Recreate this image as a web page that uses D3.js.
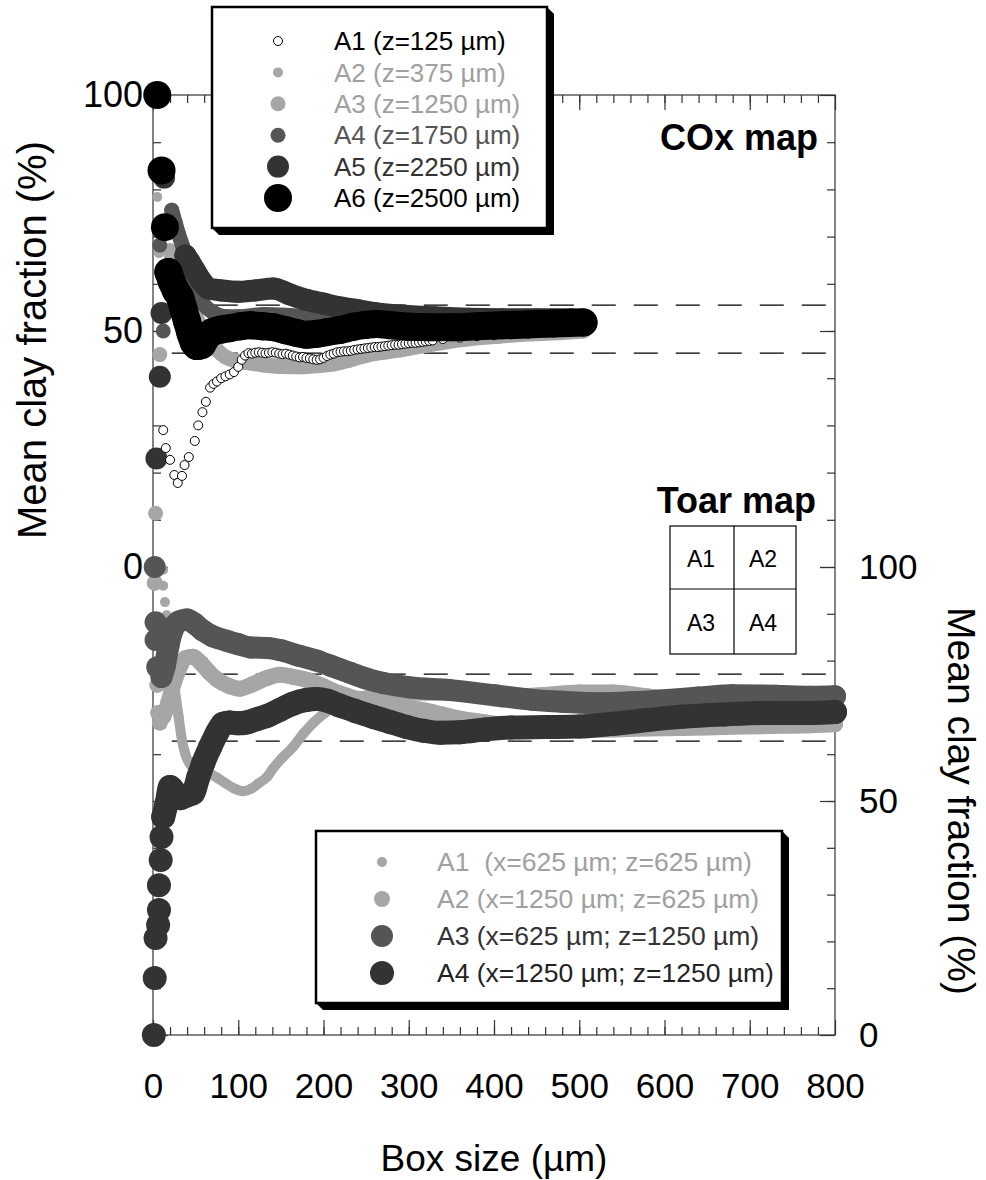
<!doctype html>
<html lang="en">
<head>
<meta charset="utf-8">
<title>Mean clay fraction vs box size</title>
<script src="https://d3js.org/d3.v7.min.js"></script>
<style>
  body { margin: 0; background: #fff; }
  svg text { font-family: "Liberation Sans", Arial, Helvetica, sans-serif; white-space: pre; }
</style>
</head>
<body>
<svg width="986" height="1180"></svg>
<script>
// ---- axis ticks ----
const boxTicks = [0, 100, 200, 300, 400, 500, 600, 700, 800];
const boxMinor = d3.range(20, 800, 20);
const fracTicks = [0, 50, 100];
const fracMinor = d3.range(10, 100, 10);

// ---- COx map (upper panel, left axis) : [box size, mean clay fraction] ----
const coxA1 = [[12,29],[15,25.2],[20,22.7],[25,19.5],[29,17.8],[34,19.3],[37,21.6],[42,23.3],[49,26.7],[53,30],[58,32.8],[62,35],[67,38],[71,38.8],[75,39.3],[80,40],[85,40.4],[90,40.8],[95,41.3],[100,42.4],[104,43.9],[108,44.8],[112,45.3],
  [116,45.2],[120,45.4],[124,45.5],[128,45.4],[132,45.3],[136,45.4],[140,45.5],[144,45.4],[148,45.2],[152,45.1],[156,45.2],[160,45.0],[164,44.8],[168,44.6],[172,44.4],[176,44.5],[180,44.3],[184,44.2],[188,44.0],[192,43.9],[196,44.0],[200,44.3],[204,44.7],[208,45.0],[212,45.2],[216,45.5],[220,45.6],[224,45.7],[228,45.7],[232,45.8],[236,46.0],[240,46.1],[244,46.2],[248,46.3],[252,46.4],[256,46.5],[260,46.6],[264,46.6],[268,46.7],[272,46.8],[276,46.9],[280,47.0],[284,47.1],[288,47.1],[292,47.2],[296,47.3],[300,47.4],[304,47.5],[308,47.5],[312,47.6],[316,47.7],[320,47.8],[324,47.9],[328,48.0],
  [340,48.3],[360,48.6],[380,48.9],[400,49.1],[420,49.3],[440,49.5],[460,49.7],[480,49.8],[500,50]];
const coxA2Scatter = [[5,78.4],[7,66.5]];
const coxA2 = [[12,60],[18,58],[25,57],[35,54],[45,51],[60,48],[80,45],[100,43.8],[130,43],[170,42.8],[210,43.3],[250,45],[300,46.3],[350,47.8],[400,48.7],[450,49.4],[500,49.9]];
const coxA3Scatter = [[3,11.4],[8,45]];
const coxA3 = [[20,67],[24,64.5],[30,60.5],[36,57],[42,55],[50,53],[58,50.5],[66,48],[75,46],[85,44.5],[95,43.8],[110,43.3],[130,42.8],[150,42.5],[172,42.4],[195,42.7],[211,43],[230,43.8],[251,44.9],[270,45.5],[290,46],[330,47.3],[368,48.3],[405,48.9],[446,49.4],[480,49.7],[505,50]];
const coxA4Scatter = [[8,68.2],[12,50]];
const coxA4 = [[22,75.6],[26,73],[30,70.5],[35,67.8],[40,64.5],[45,61.5],[52,58],[60,55.5],[70,54],[87,53],[100,53],[130,53.5],[160,53.3],[200,52.8],[250,52.3],[300,51.8],[350,51.6],[400,51.5],[450,51.6],[505,51.8]];
const coxA5Scatter = [[4,23],[8,40.3],[10,53.8],[13,82.5]];
const coxA5 = [[38,66],[43,64.6],[50,62.5],[57,60.5],[65,59],[80,58.6],[100,58.3],[120,58.6],[141,59],[160,57.8],[180,56.6],[200,55.8],[219,55],[240,54.4],[260,53.8],[290,53.3],[330,52.9],[370,52.6],[410,52.5],[450,52.5],[490,52.5],[505,52.4]];
const coxA6Scatter = [[5,100],[10,84],[14,72]];
const coxA6 = [[18,62.5],[22,60.5],[27,58.5],[32,57],[36,54.5],[40,52],[44,49.5],[48,47.5],[52,46.8],[57,47],[63,48.8],[70,49.8],[80,50.3],[90,50.6],[102,51],[115,51.2],[128,51],[141,50.8],[155,50.2],[168,49.6],[180,49.2],[192,49.4],[205,49.8],[219,50.2],[235,50.9],[250,51.3],[262,51.5],[280,51.2],[300,50.9],[325,50.8],[350,50.8],[380,51],[410,51.2],[440,51.4],[470,51.6],[505,51.8]];
const coxLimits = [55.5, 45.3];

// ---- Toar map (lower panel, right axis) ----
const toarA1Scatter = [[12,99.4],[12,96],[14,92.5],[16,89.7],[18,86.5]];
const toarA1 = [[20,80],[24,76],[27,72],[30,68],[34,63],[38,60],[45,57.5],[55,56.5],[65,56],[75,55],[85,53.8],[95,52.7],[106,52.1],[115,52.6],[124,53.8],[134,55.2],[141,57],[152,59.3],[164,61.5],[176,64.3],[188,66.7],[200,68.6],[211,70],[225,71.3],[240,72.2],[260,72.8],[290,72.7],[320,72.5],[350,72.6],[400,72.8],[450,73.2],[500,73.8],[540,73.8],[580,73],[620,72.4],[670,72.3],[720,72.3],[771,72.3],[800,72.5]];
const toarA2Scatter = [[2,96.6],[5,74.8],[6,68.8],[8,66.7]];
const toarA2 = [[12,68],[18,71],[23,74.4],[30,78],[38,80.5],[47,80.8],[56,79.5],[66,77.5],[75,76],[90,74.5],[102,74],[115,74.8],[134,76.3],[149,77],[165,76.5],[180,75.9],[200,74.5],[219,73],[240,71.8],[258,70.9],[280,70.3],[298,70],[320,69.3],[337,68.6],[360,67.6],[390,66.8],[420,66],[460,65.4],[500,65.2],[540,65.3],[580,65.5],[620,65.6],[670,65.8],[720,66],[771,66.2],[800,66.4]];
const toarA3Scatter = [[2,100],[3,88.2],[3,84.4],[5,78.6]];
const toarA3 = [[10,76.5],[14,79],[18,83],[23,86.5],[30,88.3],[40,88.8],[48,88],[58,86.5],[70,85.2],[87,84.2],[100,83.5],[115,82.8],[134,82.7],[150,82.2],[172,81],[192,80],[210,78.8],[231,77.4],[250,76.2],[270,75.2],[300,74.3],[348,73.7],[400,72.6],[446,71.6],[480,71.2],[524,70.9],[560,71.1],[603,71.6],[640,72.1],[680,72.6],[730,72.5],[771,72.3],[800,72.4]];
const toarA4Scatter = [[1,0],[2,12.2],[3,20.7],[6,23.5],[7,26.7],[7,32],[9,37.4],[10,42.3]];
const toarA4 = [[12,46.6],[16,49.5],[20,53],[25,52],[32,50.6],[40,51.2],[47,51.7],[53,55],[59,58.1],[67,61.5],[75,64.5],[82,66.5],[90,66.8],[100,66.6],[110,66.8],[122,67.5],[134,68.2],[149,69.5],[164,70.8],[180,71.6],[192,71.8],[205,71.4],[219,70.4],[238,69.2],[258,68],[278,66.9],[298,65.8],[318,65],[337,64.6],[360,64.7],[390,65.3],[420,65.7],[460,65.8],[500,65.9],[540,66.5],[580,67.3],[620,68],[670,68.5],[720,68.8],[771,68.8],[800,69]];
const toarLimits = [77.1, 62.8];

const coxLabels = ["A1 (z=125 µm)", "A2 (z=375 µm)", "A3 (z=1250 µm)", "A4 (z=1750 µm)", "A5 (z=2250 µm)", "A6 (z=2500 µm)"];
const toarLabels = ["A1  (x=625 µm; z=625 µm)", "A2 (x=1250 µm; z=625 µm)", "A3 (x=625 µm; z=1250 µm)", "A4 (x=1250 µm; z=1250 µm)"];
const toarCells = ["A1", "A2", "A3", "A4"];

// ---- styles ----
const LIGHT = "#a6a6a6", MID = "#555555", DARK = "#333333", BLACK = "#000000";

const coxSeries = [
  { name: "A2", scatter: coxA2Scatter, trace: coxA2, color: LIGHT, r: 5, text: "#a0a0a0" },
  { name: "A3", scatter: coxA3Scatter, trace: coxA3, color: LIGHT, r: 7.5, text: "#a0a0a0" },
  { name: "A4", scatter: coxA4Scatter, trace: coxA4, color: MID, r: 7.5, text: MID },
  { name: "A5", scatter: coxA5Scatter, trace: coxA5, color: DARK, r: 11, text: DARK },
  { name: "A1", scatter: coxA1, trace: [], color: BLACK, r: 4.5, open: true, text: BLACK },
  { name: "A6", scatter: coxA6Scatter, trace: coxA6, color: BLACK, r: 14, text: BLACK }
];
const toarSeries = [
  { name: "A1", scatter: toarA1Scatter, trace: toarA1, color: LIGHT, r: 5, text: "#a0a0a0" },
  { name: "A2", scatter: toarA2Scatter, trace: toarA2, color: LIGHT, r: 8, text: "#a0a0a0" },
  { name: "A3", scatter: toarA3Scatter, trace: toarA3, color: MID, r: 11, text: DARK },
  { name: "A4", scatter: toarA4Scatter, trace: toarA4, color: DARK, r: 12, text: "#222222" }
];

const svg = d3.select("svg");
const x = d3.scaleLinear().domain([0, 800]).range([153, 835]);
const yCox = d3.scaleLinear().domain([0, 100]).range([567, 95]);
const yToar = d3.scaleLinear().domain([0, 100]).range([1035, 567]);

function tickGroup(axis, tx, ty) {
  const g = svg.append("g").attr("transform", "translate(" + tx + "," + ty + ")").call(axis);
  g.select(".domain").remove();
  g.selectAll("line").attr("stroke", "#333").attr("stroke-width", 1.2);
  g.selectAll("text").attr("font-size", 35).attr("fill", "#000")
    .attr("font-family", '"Liberation Sans", Arial, sans-serif');
  return g;
}

// frame
svg.append("rect").attr("x", x(0)).attr("y", yCox(100))
  .attr("width", x(800) - x(0)).attr("height", yToar(0) - yCox(100))
  .attr("fill", "none").attr("stroke", "#333").attr("stroke-width", 1.2);

// bottom / top ticks (inward)
tickGroup(d3.axisTop(x).tickValues(boxMinor).tickSize(8).tickFormat(""), 0, yToar(0));
tickGroup(d3.axisTop(x).tickValues(boxTicks).tickSize(15).tickFormat(""), 0, yToar(0));
tickGroup(d3.axisBottom(x).tickValues(boxTicks).tickSize(0).tickPadding(38), 0, yToar(0));
tickGroup(d3.axisBottom(x).tickValues(boxMinor).tickSize(8).tickFormat(""), 0, yCox(100));
tickGroup(d3.axisBottom(x).tickValues(boxTicks).tickSize(15).tickFormat(""), 0, yCox(100));

// left ticks
tickGroup(d3.axisRight(yCox).tickValues(fracMinor).tickSize(8).tickFormat(""), x(0), 0);
tickGroup(d3.axisRight(yCox).tickValues(fracTicks).tickSize(15).tickFormat(""), x(0), 0);
tickGroup(d3.axisRight(yToar).tickValues(fracMinor).tickSize(8).tickFormat(""), x(0), 0);
tickGroup(d3.axisRight(yToar).tickValues(fracTicks).tickSize(15).tickFormat(""), x(0), 0);
tickGroup(d3.axisLeft(yCox).tickValues(fracTicks).tickSize(0).tickPadding(10), x(0), 0)
  .selectAll("text").attr("font-size", 36);

// right ticks
tickGroup(d3.axisLeft(yCox).tickValues(fracMinor).tickSize(8).tickFormat(""), x(800), 0);
tickGroup(d3.axisLeft(yCox).tickValues(fracTicks).tickSize(15).tickFormat(""), x(800), 0);
tickGroup(d3.axisLeft(yToar).tickValues(fracMinor).tickSize(8).tickFormat(""), x(800), 0);
tickGroup(d3.axisLeft(yToar).tickValues(fracTicks).tickSize(15).tickFormat(""), x(800), 0);
tickGroup(d3.axisRight(yToar).tickValues(fracTicks).tickSize(0).tickPadding(24), x(800), 0);

// axis titles
svg.append("text").attr("transform", "translate(32,340) rotate(-90)")
  .attr("text-anchor", "middle").attr("dy", "0.35em").attr("font-size", 40).text("Mean clay fraction (%)");
svg.append("text").attr("transform", "translate(962,801) rotate(90)")
  .attr("text-anchor", "middle").attr("dy", "0.35em").attr("font-size", 39).text("Mean clay fraction (%)");
svg.append("text").attr("x", 494).attr("y", 1158).attr("text-anchor", "middle")
  .attr("dy", "0.35em").attr("font-size", 37).text("Box size (µm)");

// dashed reference lines
const dash = svg.append("g").attr("stroke", "#000").attr("stroke-width", 1.2).attr("stroke-dasharray", "24,18");
coxLimits.forEach(v => dash.append("line").attr("x1", x(22)).attr("x2", x(800)).attr("y1", yCox(v)).attr("y2", yCox(v)));
toarLimits.forEach(v => dash.append("line").attr("x1", x(22)).attr("x2", x(800)).attr("y1", yToar(v)).attr("y2", yToar(v)));

// series: dense markers drawn as a marker-wide band plus the read-off markers
function drawSeries(y, s) {
  const g = svg.append("g");
  if (s.trace.length) {
    g.append("path").datum(s.trace)
      .attr("d", d3.line().x(d => x(d[0])).y(d => y(d[1])).curve(d3.curveMonotoneX))
      .attr("fill", "none").attr("stroke", s.color).attr("stroke-width", 2 * s.r)
      .attr("stroke-linecap", "round").attr("stroke-linejoin", "round");
  }
  g.selectAll("circle").data(s.scatter.concat(s.trace)).enter().append("circle")
    .attr("cx", d => x(d[0])).attr("cy", d => y(d[1])).attr("r", s.r)
    .attr("fill", s.open ? "#fff" : s.color)
    .attr("stroke", s.open ? "#000" : "none").attr("stroke-width", 1);
}
toarSeries.forEach(s => drawSeries(yToar, s));
coxSeries.forEach(s => drawSeries(yCox, s));

// legends with drop shadow
function legendBox(bx, by, w, h) {
  const off = 7;
  svg.append("polygon")
    .attr("points", [[bx + w, by], [bx + w + off, by + off], [bx + w + off, by + h + off], [bx + off, by + h + off], [bx, by + h]].join(" "))
    .attr("fill", "#000");
  svg.append("rect").attr("x", bx).attr("y", by).attr("width", w).attr("height", h)
    .attr("fill", "#fff").attr("stroke", "#000").attr("stroke-width", 2.5);
}

legendBox(212, 7, 335, 221);
const coxOrder = ["A1", "A2", "A3", "A4", "A5", "A6"].map(n => coxSeries.find(s => s.name === n));
coxOrder.forEach((s, i) => {
  const cy = 41 + i * 31.4;
  svg.append("circle").attr("cx", 278).attr("cy", cy).attr("r", s.open ? 4.5 : s.r)
    .attr("fill", s.open ? "#fff" : s.color).attr("stroke", s.open ? "#000" : "none");
  svg.append("text").attr("x", 334).attr("y", cy).attr("dy", "0.35em").attr("font-size", 26)
    .attr("fill", s.text).text(coxLabels[i]);
});

legendBox(316, 831, 466, 172);
toarSeries.forEach((s, i) => {
  const cy = 862 + i * 37;
  svg.append("circle").attr("cx", 382).attr("cy", cy).attr("r", s.r).attr("fill", s.color);
  svg.append("text").attr("x", 437).attr("y", cy).attr("dy", "0.35em").attr("font-size", 26.5)
    .attr("fill", s.text).text(toarLabels[i]);
});

// map titles
svg.append("text").attr("x", 818).attr("y", 150).attr("text-anchor", "end")
  .attr("font-size", 36).attr("font-weight", "bold").text("COx map");
svg.append("text").attr("x", 816).attr("y", 513).attr("text-anchor", "end")
  .attr("font-size", 36).attr("font-weight", "bold").text("Toar map");

// Toar map sketch (2x2 grid)
const grid = svg.append("g").attr("stroke", "#000").attr("stroke-width", 1.2).attr("fill", "none");
grid.append("rect").attr("x", 670).attr("y", 526).attr("width", 126).attr("height", 128);
grid.append("line").attr("x1", 734).attr("x2", 734).attr("y1", 526).attr("y2", 654);
grid.append("line").attr("x1", 670).attr("x2", 796).attr("y1", 589).attr("y2", 589);
toarCells.forEach((t, i) => {
  svg.append("text").attr("x", i % 2 ? 763 : 701).attr("y", i < 2 ? 559 : 623)
    .attr("text-anchor", "middle").attr("dy", "0.35em").attr("font-size", 23).text(t);
});
</script>
</body>
</html>
